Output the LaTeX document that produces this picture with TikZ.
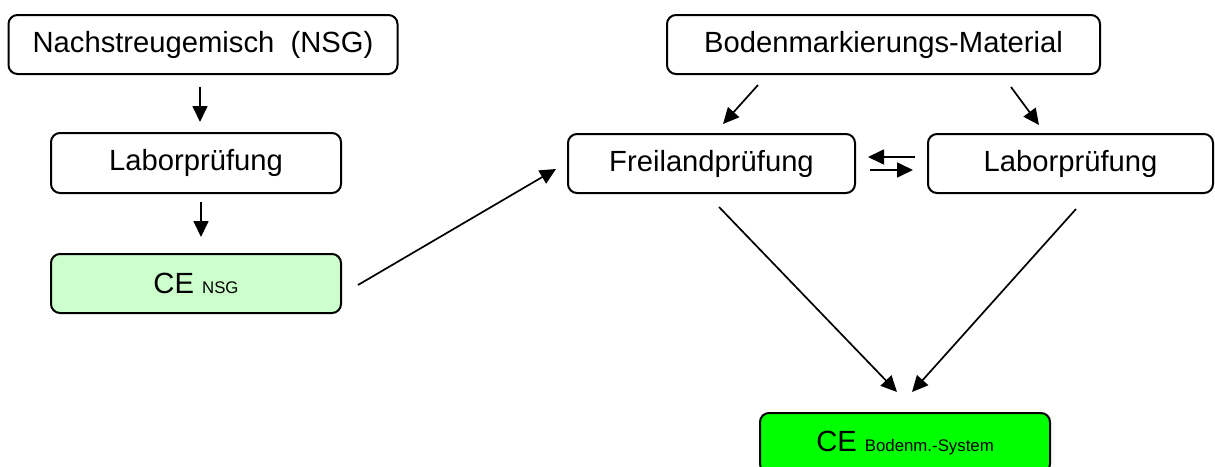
\documentclass[tikz,border=0pt]{standalone}
\usepackage{fontspec}
\setmainfont{Liberation Sans}
\usetikzlibrary{arrows.meta}
\definecolor{lightgr}{HTML}{CCFFCC}
\definecolor{brightgr}{HTML}{00FF00}
\tikzset{
  box/.style={draw=black, line width=1pt, rounded corners=4.5pt, inner sep=0pt,
    font=\fontsize{14.6}{17}\selectfont},
  arr/.style={line width=0.85pt, -{Triangle[length=8pt,width=7.5pt]}},
}
\newcommand{\subtxt}[1]{{\fontsize{8.4}{10}\selectfont #1}}
\begin{document}
\begin{tikzpicture}[x=0.5pt,y=-0.5pt]
\useasboundingbox (0,0) rectangle (1215,466);
\node[box, minimum width=194.5pt, minimum height=29.5pt] (nsg) at (203,44.5) {Nachstreugemisch~ (NSG)};
\node[box, minimum width=145pt, minimum height=30pt] (lab1) at (196,163) {Laborprüfung};
\node[box, fill=lightgr, minimum width=145pt, minimum height=29.5pt] (ce1) at (196,283.5) {CE \subtxt{NSG}};
\node[box, minimum width=216.5pt, minimum height=29.5pt] (boden) at (883.5,44.5) {Bodenmarkierungs-Material};
\node[box, minimum width=143.5pt, minimum height=29.5pt] (frei) at (711.5,163.5) {Freilandprüfung};
\node[box, minimum width=142.5pt, minimum height=29.5pt] (lab2) at (1070.5,163.5) {Laborprüfung};
\node[box, fill=brightgr, minimum width=145pt, minimum height=30pt] (ce2) at (905,443) {CE \subtxt{Bodenm.-System}};

\draw[arr] ([xshift=-1.5pt,yshift=-6pt]nsg.south) -- ([xshift=2pt,yshift=5pt]lab1.north);
\draw[arr] ([xshift=2.5pt,yshift=-4pt]lab1.south) -- ([xshift=2.5pt,yshift=8pt]ce1.north);
\draw[arr] ([xshift=8pt,yshift=-0.75pt]ce1.east) -- ([xshift=-5.5pt,yshift=-2.75pt]frei.west);
\draw[arr] ([xshift=-62.75pt,yshift=-5pt]boden.south) -- ([xshift=5.75pt,yshift=4.5pt]frei.north);
\draw[arr] ([xshift=63.75pt,yshift=-6pt]boden.south) -- ([xshift=-15.75pt,yshift=4pt]lab2.north);
\draw[arr] ([xshift=-6pt,yshift=3.25pt]lab2.west) -- ([xshift=6pt,yshift=3.25pt]frei.east);
\draw[arr] ([xshift=7pt,yshift=-3.25pt]frei.east) -- ([xshift=-7pt,yshift=-3.25pt]lab2.west);
\draw[arr] ([xshift=3.75pt,yshift=-6.5pt]frei.south) -- ([xshift=-4pt,yshift=10pt]ce2.north);
\draw[arr] ([xshift=2.75pt,yshift=-7.5pt]lab2.south) -- ([xshift=3.5pt,yshift=10pt]ce2.north);
\end{tikzpicture}
\end{document}
